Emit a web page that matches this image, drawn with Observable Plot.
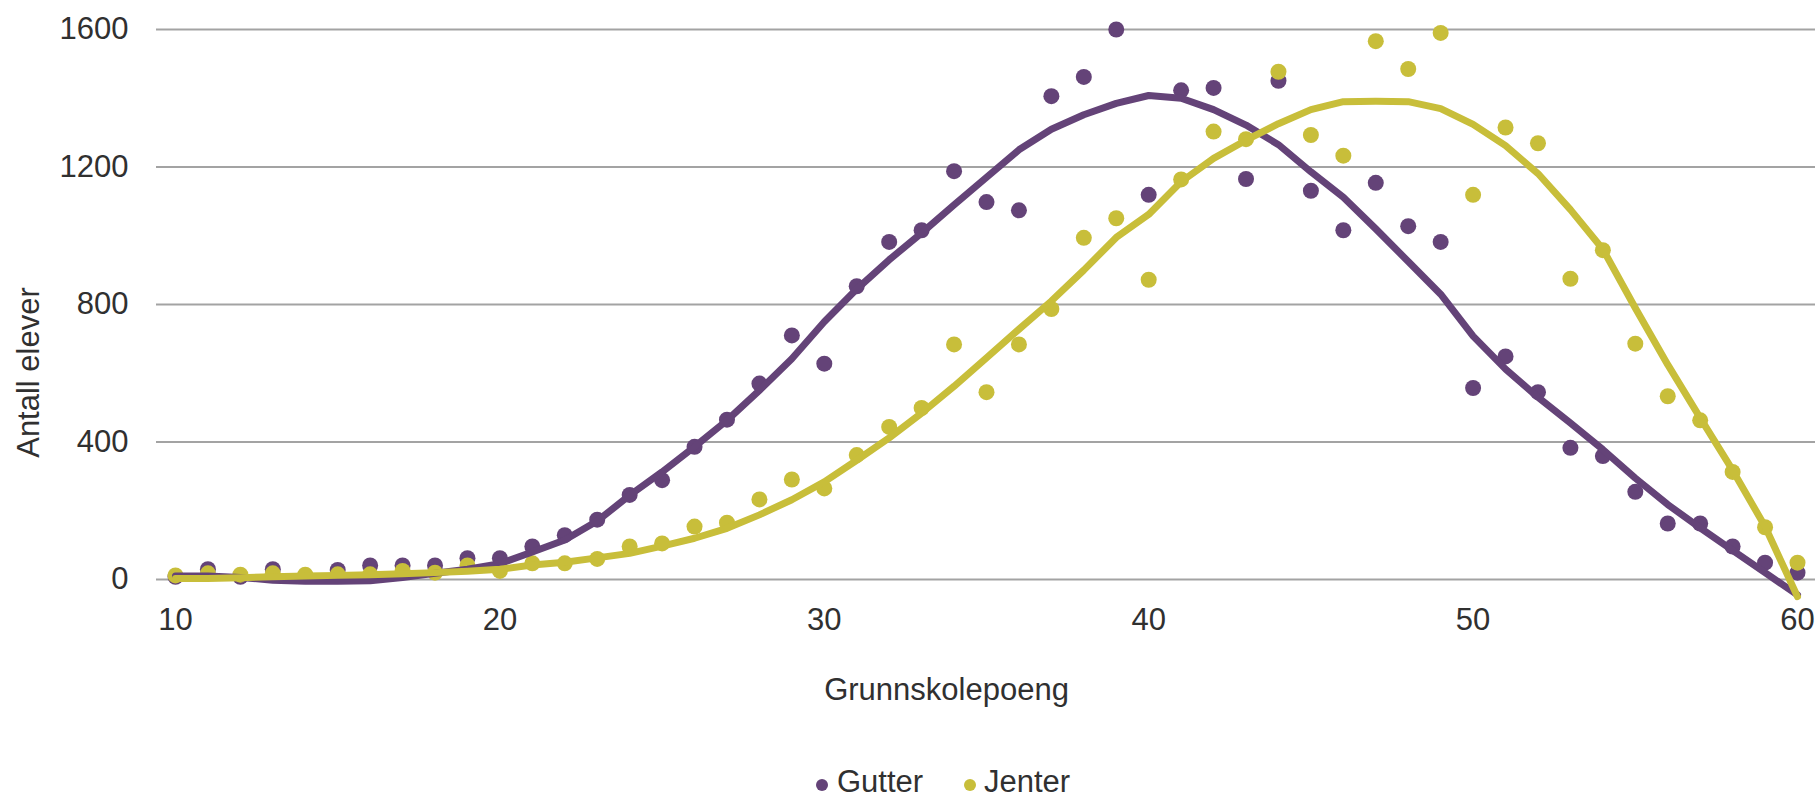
<!DOCTYPE html>
<html>
<head>
<meta charset="utf-8">
<script src="https://cdn.jsdelivr.net/npm/d3@7"></script>
<script src="https://cdn.jsdelivr.net/npm/@observablehq/plot@0.6"></script>
<style>
  html, body { margin: 0; padding: 0; background: #fff; }
  body { font-family: "Liberation Sans", Arial, sans-serif; color: #303030; width: 1818px; overflow: hidden; }
  #legend { position: relative; width: 1818px; height: 66px; font-size: 31px; }
  #legend .dot { position: absolute; width: 12px; height: 12px; border-radius: 50%; }
  #legend .lab { position: absolute; line-height: 31px; white-space: nowrap; }
</style>
</head>
<body>
<div id="chart"></div>
<div id="legend"></div>
<script>
// Grunnskolepoeng (x categories)
const score = [10,11,12,13,14,15,16,17,18,19,20,21,22,23,24,25,26,27,28,29,30,
               31,32,33,34,35,36,37,38,39,40,41,42,43,44,45,46,47,48,49,50,
               51,52,53,54,55,56,57,58,59,60];

// Observed counts (dots)
const gutter = [8,30,8,30,10,28,41,41,41,62,62,96,129,174,246,289,386,465,570,710,628,
                853,982,1016,1188,1098,1074,1406,1462,1600,1119,1423,1430,1165,1451,1131,1016,1154,1028,982,557,
                649,545,383,359,255,163,163,96,49,20];
const jenter = [12,18,14,18,14,15,15,25,20,41,25,47,47,60,96,105,154,165,233,291,265,
                362,444,499,684,545,684,787,994,1051,872,1164,1303,1281,1477,1293,1233,1566,1485,1590,1119,
                1315,1269,875,958,686,533,463,313,152,49];

// Trend lines
const gutterTrend = [10,10,6,-2,-5,-5,-4,6,18,30,46,80,115,170,245,313,386,463,550,642,750,
                     845,930,1008,1090,1170,1250,1310,1352,1385,1408,1400,1367,1322,1265,1186,1112,1020,925,830,708,
                     612,530,455,378,295,218,150,85,20,-45];
const jenterTrend = [3,3,5,8,10,12,14,17,20,24,30,42,50,63,76,97,120,149,188,232,284,
                     347,412,484,562,645,728,810,900,995,1062,1157,1225,1278,1326,1367,1390,1391,1390,1370,1324,
                     1262,1181,1076,961,790,625,470,318,154,-50];

const seriesNames = ["Gutter", "Jenter"];
const seriesColors = ["#644378", "#c8be3a"];
const yTicks = [0, 400, 800, 1200, 1600];
const xTicks = [10, 20, 30, 40, 50, 60];
const yTitle = "Antall elever";
const xTitle = "Grunnskolepoeng";

const gData = score.map((x, i) => ({x, y: gutter[i]}));
const jData = score.map((x, i) => ({x, y: jenter[i]}));
const gTrend = score.map((x, i) => ({x, y: gutterTrend[i]}));
const jTrend = score.map((x, i) => ({x, y: jenterTrend[i]}));

const chart = Plot.plot({
  width: 1818,
  height: 730,
  marginTop: 29,
  marginBottom: 151,
  marginLeft: 156,
  marginRight: 3,
  style: {fontFamily: "'Liberation Sans', Arial, sans-serif", fontSize: "31px", color: "#303030", background: "#fff", overflow: "visible"},
  x: {domain: [10, 60], range: [175, 1797]},
  y: {domain: [0, 1600], range: [579, 29]},
  marks: [
    Plot.ruleY(yTicks, {stroke: "#a3a3a3", strokeWidth: 2}),
    Plot.axisY({ticks: yTicks, tickSize: 0, tickPadding: 28, label: null, tickFormat: d => String(d), fontSize: 31, fill: "#303030"}),
    Plot.axisX({ticks: xTicks, tickSize: 0, tickPadding: 28, label: null, tickFormat: d => String(d), fontSize: 31, fill: "#303030"}),
    Plot.text([yTitle], {text: d => d, frameAnchor: "left", textAnchor: "middle", lineAnchor: "middle", rotate: -90, dx: -127, dy: 68, fontSize: 31, fill: "#303030"}),
    Plot.text([xTitle], {text: d => d, frameAnchor: "bottom", textAnchor: "middle", lineAnchor: "middle", dx: -39.5, dy: 111, fontSize: 31, fill: "#303030"}),
    Plot.dot(gData, {x: "x", y: "y", r: 8, fill: seriesColors[0], stroke: "none"}),
    Plot.dot(jData, {x: "x", y: "y", r: 8, fill: seriesColors[1], stroke: "none"}),
    Plot.line(gTrend, {x: "x", y: "y", stroke: seriesColors[0], strokeWidth: 7, strokeLinejoin: "round", strokeLinecap: "round"}),
    Plot.line(jTrend, {x: "x", y: "y", stroke: seriesColors[1], strokeWidth: 7, strokeLinejoin: "round", strokeLinecap: "round"})
  ]
});
document.getElementById("chart").appendChild(chart);

// Legend below the SVG
const legend = document.getElementById("legend");
const legendPos = [{dot: 816, text: 837}, {dot: 964, text: 984}];
seriesNames.forEach((name, i) => {
  const dot = document.createElement("span");
  dot.className = "dot";
  dot.style.left = legendPos[i].dot + "px";
  dot.style.top = "49px";
  dot.style.background = seriesColors[i];
  legend.appendChild(dot);
  const lab = document.createElement("span");
  lab.className = "lab";
  lab.style.left = legendPos[i].text + "px";
  lab.style.top = "36px";
  lab.textContent = name;
  legend.appendChild(lab);
});
</script>
</body>
</html>
